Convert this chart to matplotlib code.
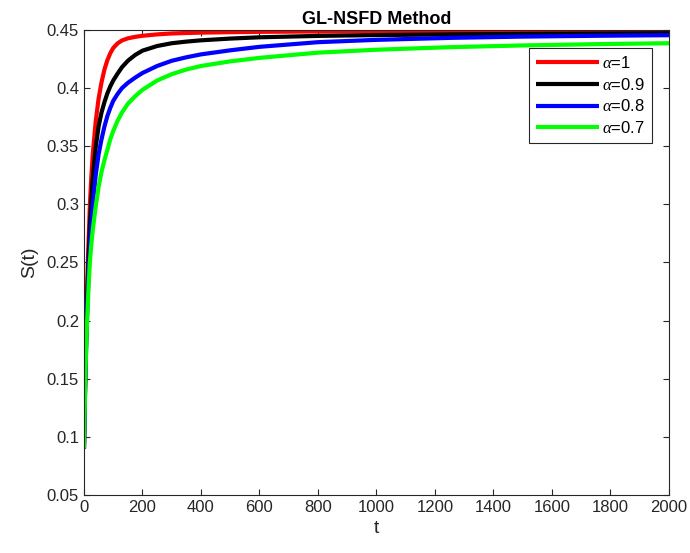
import matplotlib
matplotlib.use("Agg")
import matplotlib.pyplot as plt

plt.rcParams['font.family'] = ['Liberation Sans', 'DejaVu Sans']
plt.rcParams['mathtext.fontset'] = 'custom'
plt.rcParams['mathtext.it'] = 'Liberation Serif:italic'

# time points
t = [0, 5, 10, 15, 20, 25, 30, 40, 50, 60, 70, 80, 90, 100, 115, 130, 150,
     175, 200, 250, 300, 350, 400, 500, 600, 800, 1000, 1250, 1500, 1750, 2000]

s_a1 = [0.090, 0.165, 0.225, 0.263, 0.298, 0.323, 0.343, 0.371, 0.391, 0.405,
        0.416, 0.424, 0.430, 0.4345, 0.4385, 0.441, 0.4428, 0.4441, 0.4450,
        0.4462, 0.4470, 0.4474, 0.4477, 0.4481, 0.4484, 0.4487, 0.4488,
        0.4490, 0.4491, 0.4492, 0.4493]
s_a09 = [0.090, 0.160, 0.210, 0.248, 0.280, 0.303, 0.322, 0.349, 0.367, 0.379,
         0.388, 0.3955, 0.4015, 0.4065, 0.4125, 0.418, 0.4235, 0.4285, 0.4322,
         0.4362, 0.4386, 0.4400, 0.4411, 0.4426, 0.4437, 0.4449, 0.4456,
         0.4462, 0.4466, 0.4469, 0.4472]
s_a08 = [0.090, 0.155, 0.200, 0.236, 0.263, 0.283, 0.300, 0.325, 0.343, 0.356,
         0.367, 0.376, 0.383, 0.389, 0.395, 0.400, 0.4045, 0.409, 0.413,
         0.419, 0.4235, 0.4265, 0.4290, 0.4325, 0.4355, 0.4395, 0.4415,
         0.4432, 0.4443, 0.4450, 0.4455]
s_a07 = [0.090, 0.155, 0.195, 0.225, 0.250, 0.265, 0.278, 0.298, 0.315, 0.328,
         0.338, 0.347, 0.356, 0.363, 0.372, 0.379, 0.3865, 0.393, 0.3985,
         0.4065, 0.4120, 0.4160, 0.4190, 0.4230, 0.4260, 0.4305, 0.4330,
         0.4352, 0.4367, 0.4378, 0.4386]

series = [s_a1, s_a09, s_a08, s_a07]
labels = [r'$\alpha$=1', r'$\alpha$=0.9', r'$\alpha$=0.8', r'$\alpha$=0.7']
colors = ['#ff0000', '#000000', '#0000ff', '#00ff00']

xticks = list(range(0, 2001, 200))
yticks = [0.05, 0.1, 0.15, 0.2, 0.25, 0.3, 0.35, 0.4, 0.45]
ytick_labels = ['0.05', '0.1', '0.15', '0.2', '0.25', '0.3', '0.35', '0.4', '0.45']

fig = plt.figure(figsize=(6.9, 5.53), dpi=100)
ax = fig.add_axes([0.1217, 0.1049, 0.8478, 0.8409])

for s, lab, c in zip(series, labels, colors):
    ax.plot(t, s, color=c, linewidth=3, label=lab,
            solid_joinstyle='round', solid_capstyle='butt')

ax.set_xlim(0, 2000)
ax.set_ylim(0.05, 0.45)
ax.set_xticks(xticks)
ax.set_yticks(yticks)
ax.set_yticklabels(ytick_labels)

axis_col = '#262626'
for sp in ax.spines.values():
    sp.set_color(axis_col)
    sp.set_linewidth(0.8)
ax.tick_params(direction='in', length=4, width=0.8, top=True, right=True,
               colors=axis_col, labelsize=12)

ax.set_xlabel('t', fontsize=14, color=axis_col, labelpad=4)
ax.set_ylabel('S(t)', fontsize=14, color=axis_col, labelpad=6)
ax.set_title('GL-NSFD Method', fontsize=13, fontweight='bold', pad=4)

leg = ax.legend(loc='upper right', bbox_to_anchor=(0.971, 0.961), borderaxespad=0,
                fontsize=12, handlelength=3.8, handletextpad=0.2,
                labelspacing=0.35, borderpad=0.4, fancybox=False, framealpha=1)
leg.get_frame().set_edgecolor(axis_col)
leg.get_frame().set_linewidth(0.8)

plt.savefig('out.png', dpi=100)
